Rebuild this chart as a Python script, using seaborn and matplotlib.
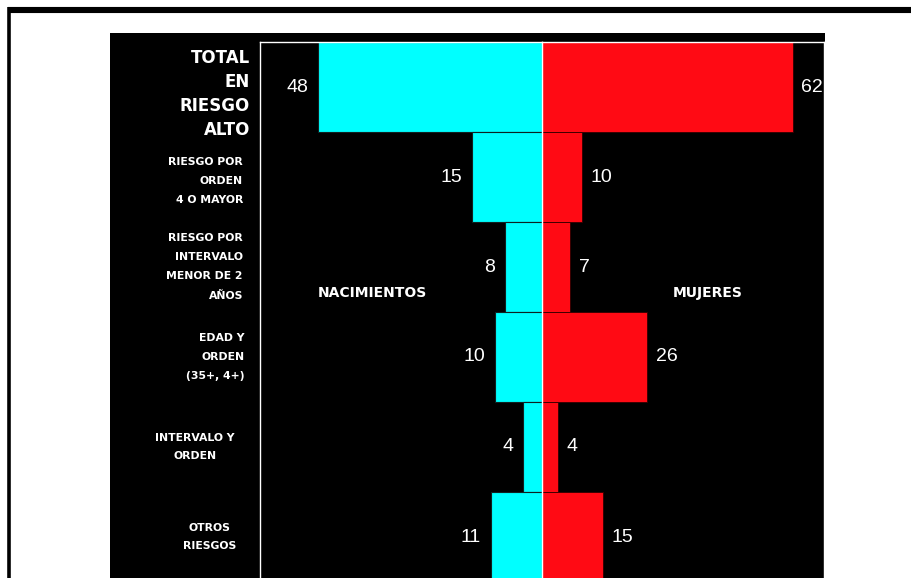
import matplotlib
matplotlib.use("Agg")
import matplotlib.pyplot as plt
import seaborn as sns
import pandas as pd
from matplotlib.patches import Rectangle
from matplotlib.lines import Line2D

# data
categories = ["TOTAL\nEN\nRIESGO\nALTO",
              "RIESGO POR\nORDEN\n4 O MAYOR",
              "RIESGO POR\nINTERVALO\nMENOR DE 2\nAÑOS",
              "EDAD Y\nORDEN\n(35+, 4+)",
              "INTERVALO Y\nORDEN",
              "OTROS\nRIESGOS"]
nacimientos = [48, 15, 8, 10, 4, 11]
mujeres = [62, 10, 7, 26, 4, 15]

df = pd.DataFrame({"riesgo": categories, "nacimientos": nacimientos, "mujeres": mujeres})

W, H = 912, 578
sns.set_theme(style="white")
plt.rcParams["font.family"] = ["Liberation Sans", "DejaVu Sans"]

fig = plt.figure(figsize=(W / 100, H / 100), dpi=100)
fig.patch.set_facecolor("white")

# black panel behind the chart
fig.add_artist(Rectangle((110 / W, 0), (825 - 110) / W, (578 - 33) / H,
                         transform=fig.transFigure, facecolor="black", edgecolor="none", zorder=0))
# page border lines
fig.add_artist(Line2D([8 / W, 1], [1 - 9.7 / H] * 2, transform=fig.transFigure,
                      color="black", lw=4.4, solid_capstyle="butt"))
fig.add_artist(Line2D([9 / W] * 2, [0, 1 - 7 / H], transform=fig.transFigure,
                      color="black", lw=2.6, solid_capstyle="butt"))

ax_top = 1 - 42 / H
ax_l = fig.add_axes([260 / W, 0, 282 / W, ax_top])
ax_r = fig.add_axes([542 / W, 0, 282 / W, ax_top])

cyan = "#00FFFF"
red = "#FF0A14"
sns.barplot(data=df, x="nacimientos", y="riesgo", ax=ax_l, color=cyan, width=1.0,
            edgecolor="#102020", linewidth=0.8, saturation=1)
sns.barplot(data=df, x="mujeres", y="riesgo", ax=ax_r, color=red, width=1.0,
            edgecolor="#300000", linewidth=0.6, saturation=1)

ylim_bottom = -0.5 + (578 - 42) / 90
for ax in (ax_l, ax_r):
    ax.set_facecolor("black")
    ax.set_ylim(ylim_bottom, -0.5)
    ax.set_xticks([])
    ax.set_yticks([])
    ax.set_xlabel("")
    ax.set_ylabel("")
    for s in ax.spines.values():
        s.set_color("white")
        s.set_linewidth(1.0)
    ax.spines["bottom"].set_visible(False)

ax_l.set_xlim(282 / 4.667, 0)
ax_r.set_xlim(0, 282 / 4.048)
ax_l.spines["right"].set_visible(False)
ax_r.spines["left"].set_zorder(5)

ax_l.bar_label(ax_l.containers[0], fmt="%d", padding=7, color="white", fontsize=14)
ax_r.bar_label(ax_r.containers[0], fmt="%d", padding=6, color="white", fontsize=14)

# row labels
yt = ax_l.get_yaxis_transform()
label_x = [250, 243, 243, 245, 195, 209.5]
label_ha = ["right", "right", "right", "right", "center", "center"]
label_dy = [0.08, 0.04, 0, 0, 0, 0]
for i, txt in enumerate(categories):
    big = i == 0
    ax_l.text((label_x[i] - 260) / 282, i + label_dy[i], txt, transform=yt,
              ha=label_ha[i], va="center", multialignment=label_ha[i],
              color="white", fontweight="bold", family=["DejaVu Sans"],
              fontsize=12 if big else 7.8, linespacing=1.42 if big else 2.12,
              clip_on=False)

ax_l.text(0.40, 1 - (293 - 42) / 536, "NACIMIENTOS", transform=ax_l.transAxes,
          ha="center", va="center", color="white", fontweight="bold",
          family=["DejaVu Sans"], fontsize=10)
ax_r.text((708 - 542) / 282, 1 - (293 - 42) / 536, "MUJERES", transform=ax_r.transAxes,
          ha="center", va="center", color="white", fontweight="bold",
          family=["DejaVu Sans"], fontsize=10)

fig.savefig("out.png", dpi=100, facecolor="white")
plt.close(fig)
